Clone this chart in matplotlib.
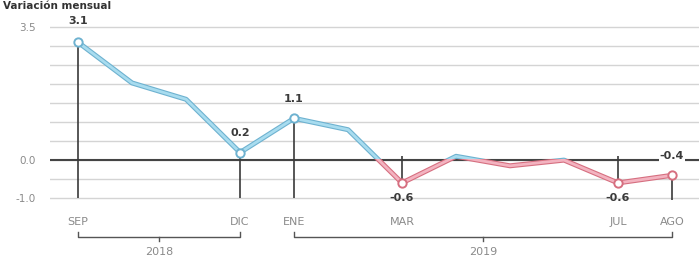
import numpy as np
import matplotlib
matplotlib.use("Agg")
from matplotlib import pyplot as plt
from matplotlib.patches import Rectangle
import matplotlib.patheffects as pe

# monthly values, sep 2018 .. ago 2019
months = ["SEP", "OCT", "NOV", "DIC", "ENE", "FEB", "MAR", "ABR", "MAY", "JUN", "JUL", "AGO"]
values = [3.1, 2.03, 1.6, 0.2, 1.1, 0.8, -0.6, 0.1, -0.15, 0.0, -0.6, -0.4]

# months that get a marker, label and drop line
marked = [0, 3, 4, 6, 10, 11]
marked_text = ["3.1", "0.2", "1.1", "-0.6", "-0.6", "-0.4"]

# year brackets (first month idx, last month idx, label)
years = [(0, 3, "2018"), (4, 11, "2019")]

ytick_vals = np.arange(-1.0, 3.51, 0.5)
ytick_show = {-1.0: "-1.0", 0.0: "0.0", 3.5: "3.5"}

BLUE, BLUE_EDGE = "#a8dcef", "#6eb2d0"
RED, RED_EDGE = "#f3b3c0", "#d66f80"
DARK = "#3a3a3a"
GREY = "#8a8a8a"

fig = plt.figure(figsize=(6.99, 2.68), dpi=100)
ax = fig.add_axes([50 / 699, 3 / 268, 649 / 699, 255 / 268])

x = np.arange(len(values))
ax.set_xlim(-0.52, 11.5)
ax.set_ylim(-2.76, 3.95)

# grid
for v in ytick_vals:
    ax.axhline(v, color="#d4d4d4", lw=1.0, zorder=1)
ax.axhline(0, color="#444444", lw=1.5, zorder=2)

ax.set_yticks(ytick_vals)
ax.set_yticklabels([ytick_show.get(round(v, 1), "") for v in ytick_vals],
                   color=GREY, fontsize=7.5)
ax.tick_params(axis="y", length=0, pad=10)
ax.set_xticks([])
for s in ax.spines.values():
    s.set_visible(False)

# drop lines
for i in marked:
    v = values[i]
    if i in (6, 10):
        ax.vlines(i, v, 0.1, color=DARK, lw=1.2, zorder=3)
    else:
        ax.vlines(i, -1.05 if i == 11 else -1.0, v, color=DARK, lw=1.2, zorder=3)

# line, blue above zero, red below
thr = 0.03
for col, edge, y0, h in [(BLUE, BLUE_EDGE, thr, 10), (RED, RED_EDGE, -10, 10 + thr)]:
    ln, = ax.plot(x, values, color=col, lw=2.0, solid_joinstyle="round", zorder=4,
                  path_effects=[pe.withStroke(linewidth=3.6, foreground=edge)])
    clip = Rectangle((-1, y0), 14, h, transform=ax.transData)
    ln.set_clip_path(clip)

# markers + labels
for i, t in zip(marked, marked_text):
    v = values[i]
    neg = v < 0
    col = RED_EDGE if neg else BLUE_EDGE
    ax.plot(i, v, "o", ms=6, mfc="white", mec=col, mew=1.4, zorder=5)
    if i in (6, 10):
        dy = -11
    elif i == 0:
        dy = 15
    else:
        dy = 14
    bb = dict(facecolor="white", edgecolor="none", pad=0.5) if i == 11 else None
    ax.annotate(t, (i, v), xytext=(0, dy), textcoords="offset points",
                ha="center", va="center", fontsize=8, fontweight="bold",
                color=DARK, zorder=6, bbox=bb)

# month names under marked months
for i in marked:
    ax.text(i, -1.63, months[i], ha="center", va="center", fontsize=8, color=GREY)

# year brackets
for a, b, lab in years:
    yb = -2.03
    ax.plot([a, a, b, b], [-1.9, yb, yb, -1.9], color="#555555", lw=1.0,
            clip_on=False, zorder=3)
    m = (a + b) / 2
    ax.plot([m, m], [yb, -2.13], color="#555555", lw=1.0, zorder=3)
    ax.text(m, -2.42, lab, ha="center", va="center", fontsize=8, color=GREY)

fig.text(0.004, 0.998, "Variación mensual", ha="left", va="top",
         fontsize=7.5, fontweight="bold", color="#333333")

fig.savefig("out.png", dpi=100)
